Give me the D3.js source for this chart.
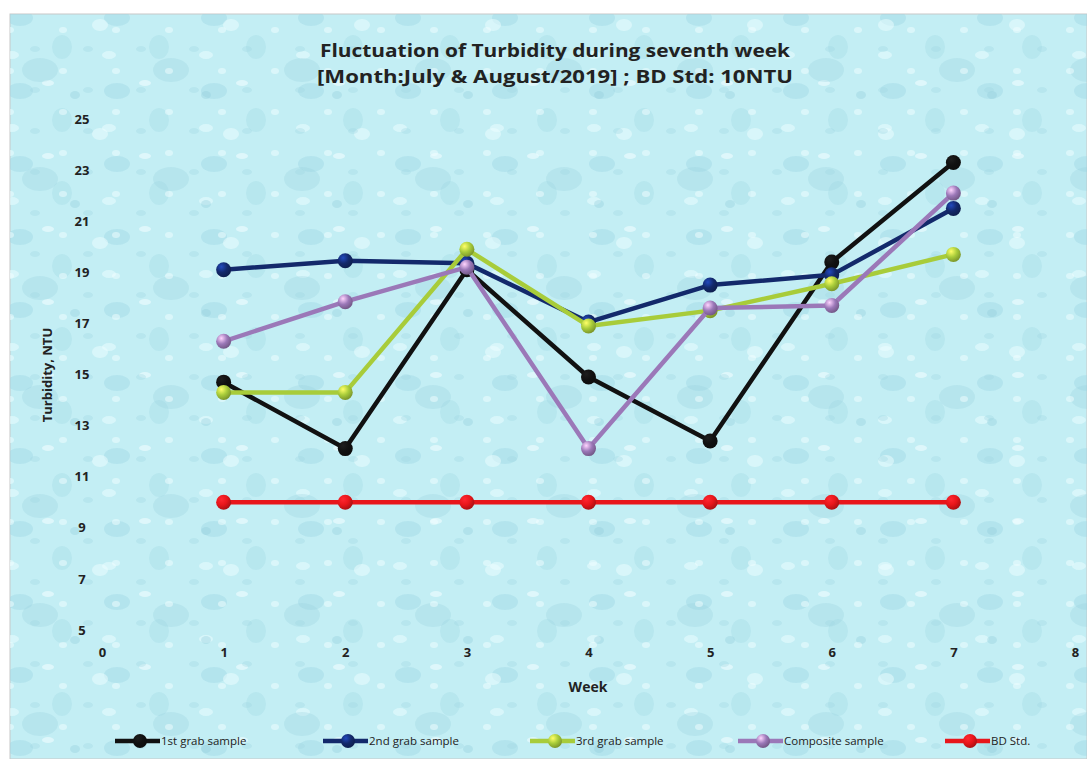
<!DOCTYPE html>
<html><head><meta charset="utf-8">
<script src="https://cdn.jsdelivr.net/npm/d3@7"></script>
<style>body{margin:0;background:#fff;}svg{display:block;}</style>
</head><body>
<svg id="c" width="1087" height="759"></svg>
<script>
const weeks = [1,2,3,4,5,6,7];
const grab1 = [14.7,12.1,19.1,14.9,12.4,19.4,23.3];
const grab2 = [19.1,19.45,19.35,17.05,18.5,18.9,21.5];
const grab3 = [14.3,14.3,19.9,16.9,17.5,18.55,19.7];
const composite = [16.3,17.85,19.2,12.1,17.6,17.7,22.1];
const bdStd = [10,10,10,10,10,10,10];
const seriesNames = ["1st grab sample","2nd grab sample","3rd grab sample","Composite sample","BD Std."];
const seriesColors = ["#111111","#13296b","#a8cc3a","#9b78b8","#e8161b"];
const xTicks = [0,1,2,3,4,5,6,7,8];
const yTicks = [5,7,9,11,13,15,17,19,21,23,25];

const svg = d3.select("#c");
const defs = svg.append("defs");
svg.append("rect").attr("x",0).attr("y",0).attr("width",1087).attr("height",759).attr("fill","#ffffff");
svg.append("rect").attr("x",10).attr("y",14).attr("width",1077).attr("height",745).attr("fill","#c3eef4").attr("stroke","#c8c8c8");
function dropPattern(id,w,h,items){
  const p = defs.append("pattern").attr("id",id).attr("width",w).attr("height",h).attr("patternUnits","userSpaceOnUse");
  items.forEach(it=>p.append("ellipse").attr("cx",it[0]).attr("cy",it[1]).attr("rx",it[2]).attr("ry",it[3]).attr("fill",it[4]).attr("opacity",it[5]));
  svg.append("rect").attr("x",10).attr("y",14).attr("width",1077).attr("height",745).attr("fill",`url(#${id})`);
}
dropPattern("d1",97,73,[[20,18,13,8,"#9fd8e4",0.45],[62,47,10,12,"#a5dbe6",0.4],[48,10,6,3,"#eafcfe",0.7],[12,55,7,4,"#e6fbfd",0.6]]);
dropPattern("d2",131,109,[[40,70,18,12,"#9ad3e0",0.3],[100,25,8,6,"#eefdff",0.5],[75,95,5,4,"#8fcbd8",0.35]]);
dropPattern("d3",53,41,[[10,30,4,3,"#f2fdff",0.5],[35,8,5,3,"#9fd6e2",0.35]]);

const x = d3.scaleLinear().domain([0,8]).range([102,1075]);
const y = d3.scaleLinear().domain([5,25]).range([630,119]);

const font = "'Open Sans', 'Noto Sans', sans-serif";
svg.append("text").attr("x",555).attr("y",57).attr("text-anchor","middle")
  .attr("font-family",font).attr("font-weight","bold").attr("font-size",18.5).attr("fill","#222")
  .attr("textLength",470).attr("lengthAdjust","spacingAndGlyphs")
  .text("Fluctuation of Turbidity during seventh week");
svg.append("text").attr("x",555).attr("y",83).attr("text-anchor","middle")
  .attr("font-family",font).attr("font-weight","bold").attr("font-size",18.5).attr("fill","#222")
  .attr("textLength",476).attr("lengthAdjust","spacingAndGlyphs")
  .text("[Month:July & August/2019] ; BD Std: 10NTU");

const yAxis = d3.axisLeft(y).tickValues(yTicks).tickSize(0).tickPadding(0);
const gy = svg.append("g").attr("transform","translate(82,0)").call(yAxis);
gy.select(".domain").remove();
gy.selectAll("text").attr("font-family",font).attr("font-weight","bold").attr("font-size",13).attr("fill","#222").attr("text-anchor","middle");
const xAxis = d3.axisBottom(x).tickValues(xTicks).tickSize(0).tickPadding(0);
const gx = svg.append("g").attr("transform","translate(0,648)").call(xAxis);
gx.select(".domain").remove();
gx.selectAll("text").attr("font-family",font).attr("font-weight","bold").attr("font-size",13).attr("fill","#222");

svg.append("text").attr("x",588).attr("y",692).attr("text-anchor","middle")
  .attr("font-family",font).attr("font-weight","bold").attr("font-size",14).attr("fill","#222").text("Week");
svg.append("text").attr("transform","translate(52,375) rotate(-90)").attr("text-anchor","middle")
  .attr("font-family",font).attr("font-weight","bold").attr("font-size",13).attr("fill","#222").text("Turbidity, NTU");

seriesColors.forEach((c,i)=>{
  const g = defs.append("radialGradient").attr("id","sph"+i).attr("cx","35%").attr("cy","30%").attr("r","70%");
  g.append("stop").attr("offset","0%").attr("stop-color",d3.color(c).brighter(1.6));
  g.append("stop").attr("offset","55%").attr("stop-color",c);
  g.append("stop").attr("offset","100%").attr("stop-color",d3.color(c).darker(0.8));
});

const allSeries = [grab1,grab2,grab3,composite,bdStd];
const line = d3.line().x((d,i)=>x(weeks[i])).y(d=>y(d));
const drawOrder = [4,0,1,2,3];
drawOrder.forEach(si=>{
  const data = allSeries[si];
  const g = svg.append("g");
  g.append("path").datum(data).attr("d",line).attr("fill","none")
    .attr("stroke",seriesColors[si]).attr("stroke-width",4.5).attr("stroke-linejoin","round");
  g.selectAll("circle").data(data).join("circle")
    .attr("cx",(d,i)=>x(weeks[i])).attr("cy",d=>y(d)).attr("r",7.5)
    .attr("fill","url(#sph"+si+")");
});

const legX = [115,323,530,738,945];
seriesNames.forEach((n,i)=>{
  const g = svg.append("g").attr("transform",`translate(${legX[i]},741)`);
  g.append("line").attr("x1",0).attr("x2",45).attr("y1",0).attr("y2",0).attr("stroke",seriesColors[i]).attr("stroke-width",4.5);
  g.append("circle").attr("cx",25).attr("cy",0).attr("r",7).attr("fill","url(#sph"+i+")");
  g.append("text").attr("x",46).attr("y",4).attr("font-family",font).attr("font-size",11.5).attr("fill","#222").text(n);
});
</script>
</body></html>
